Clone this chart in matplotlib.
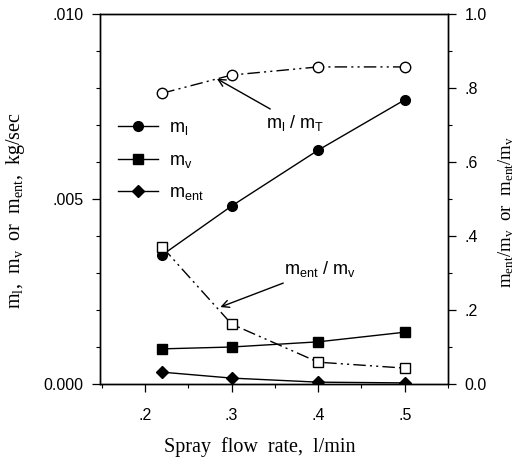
import numpy as np
import matplotlib
matplotlib.use("Agg")
import matplotlib.pyplot as plt
from matplotlib.ticker import MultipleLocator, FuncFormatter

# spray flow rate, l/min
flow = [0.22, 0.3, 0.4, 0.5]

# mass flow rates, kg/sec (left axis)
m_l = [0.00349, 0.00481, 0.00632, 0.00768]
m_v = [0.00095, 0.00100, 0.00114, 0.00140]
m_ent = [0.00032, 0.00016, 0.00005, 0.00003]

# ratios (right axis)
ratio_l_T = [0.786, 0.835, 0.857, 0.857]
ratio_ent_v = [0.370, 0.162, 0.059, 0.043]

plt.rcParams['font.family'] = ['Liberation Sans', 'DejaVu Sans']
plt.rcParams['mathtext.fontset'] = 'custom'
plt.rcParams['mathtext.rm'] = 'Liberation Serif'
plt.rcParams['mathtext.it'] = 'Liberation Serif'
plt.rcParams['mathtext.sf'] = 'Liberation Sans'

fig = plt.figure(figsize=(5.19, 4.62), dpi=100)
ax = fig.add_axes([0.1927, 0.1688, 0.6705, 0.8009])
ax2 = ax.twinx()

dashdotdot = (0, (9, 3, 1.5, 3, 1.5, 3))

l1, = ax.plot(flow, m_l, color='black', lw=1, marker='o', ms=7, label=r'$\mathsf{m_l}$')
l2, = ax.plot(flow, m_v, color='black', lw=1, marker='s', ms=6.5, label=r'$\mathsf{m_v}$')
l3, = ax.plot(flow, m_ent, color='black', lw=1, marker='D', ms=6, label=r'$\mathsf{m_{ent}}$')

ax2.plot(flow, ratio_l_T, color='black', lw=1, ls=dashdotdot, marker='o', ms=7.5,
         mfc='white', mec='black', mew=1)
ax2.plot(flow, ratio_ent_v, color='black', lw=1, ls=dashdotdot, marker='s', ms=7,
         mfc='white', mec='black', mew=1)

ax.set_xlim(0.148, 0.55)
ax.set_ylim(0, 0.010)
ax2.set_ylim(0, 1.0)

# ticks
ax.xaxis.set_major_locator(MultipleLocator(0.1))
ax.xaxis.set_minor_locator(MultipleLocator(0.05))
ax.xaxis.set_major_formatter(FuncFormatter(lambda v, p: ('%.1f' % v).lstrip('0')))
ax.yaxis.set_major_locator(MultipleLocator(0.005))
ax.yaxis.set_minor_locator(MultipleLocator(0.001))
ax.yaxis.set_major_formatter(FuncFormatter(lambda v, p: '0.000' if v == 0 else ('%.3f' % v).lstrip('0')))
ax2.yaxis.set_major_locator(MultipleLocator(0.2))
ax2.yaxis.set_minor_locator(MultipleLocator(0.1))
ax2.yaxis.set_major_formatter(FuncFormatter(lambda v, p: '%.1f' % v if v in (0, 1) else ('%.1f' % v).lstrip('0')))

for a in (ax, ax2):
    a.tick_params(which='major', direction='out', length=6, width=0.9, labelsize=11.5, pad=6)
    a.tick_params(which='minor', direction='out', length=3, width=0.8)
    for s in a.spines.values():
        s.set_linewidth(1)
ax.tick_params(axis='x', which='major', pad=11)

ax.set_xlabel(r'Spray  flow  rate,  l/min', family='Liberation Serif', fontsize=14.5)
ax.set_ylabel(r'm$_\mathrm{l}$,  m$_\mathrm{v}$  or  m$_\mathrm{ent}$,  kg/sec',
              family='Liberation Serif', fontsize=14.5)
ax2.set_ylabel(r'm$_\mathrm{ent}$/m$_\mathrm{v}$  or  m$_\mathrm{ent}$/m$_\mathrm{v}$',
               family='Liberation Serif', fontsize=13.5)
ax.xaxis.set_label_coords(0.458, -0.143)
ax.yaxis.set_label_coords(-0.21, 0.468)
ax2.yaxis.set_label_coords(1.14, 0.465)

leg = ax.legend(handles=[l1, l2, l3], loc='upper left', bbox_to_anchor=(0.052, 0.715),
                frameon=False, numpoints=1, handlelength=2.2, handletextpad=0.6,
                labelspacing=0.8, fontsize=13, borderpad=0, borderaxespad=0)

ax2.annotate(r'$\mathsf{m_l}$ / $\mathsf{m_T}$', xy=(0.283, 0.825), xytext=(0.34, 0.705),
             fontsize=13, ha='left', va='center',
             arrowprops=dict(arrowstyle='->', color='black', lw=1, shrinkA=2, shrinkB=0))
ax2.annotate(r'$\mathsf{m_{ent}}$ / $\mathsf{m_v}$', xy=(0.287, 0.208), xytext=(0.36, 0.31),
             fontsize=13, ha='left', va='center',
             arrowprops=dict(arrowstyle='->', color='black', lw=1, shrinkA=2, shrinkB=0))

fig.savefig('out.png', dpi=100)
